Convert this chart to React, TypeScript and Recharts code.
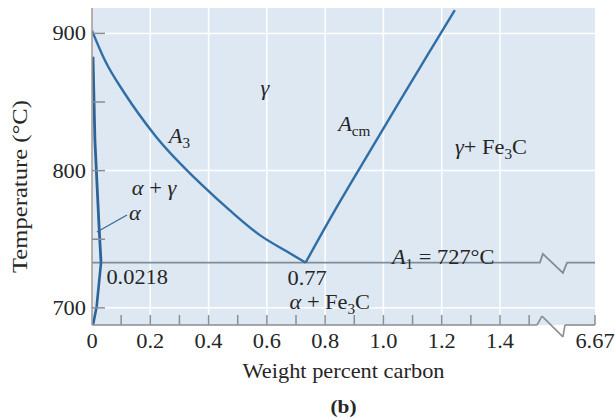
import { LineChart, Line, XAxis, YAxis, CartesianGrid, ReferenceLine, ReferenceDot } from "recharts";

// x in display units: 0..1.5 wt% is linear, the axis is broken after 1.5 and ends at 6.67
const X_END = 1.726;
const Y_MIN = 687.5;
const Y_MAX = 918.5;

const X_TICKS = [0, 0.1, 0.2, 0.3, 0.4, 0.5, 0.6, 0.7, 0.8, 0.9, 1.0, 1.1, 1.2, 1.3, 1.4, 1.5, X_END];
const X_LABELS = [0, 0.2, 0.4, 0.6, 0.8, 1.0, 1.2, 1.4];
const X_END_LABEL = "6.67";
const X_GRID = [0.2, 0.4, 0.6, 0.8, 1.0, 1.2, 1.4];
const Y_TICKS = [700, 750, 800, 850, 900];
const Y_LABELS = [700, 800, 900];
const Y_GRID = [700, 800, 900];

// phase boundaries (wt% C, °C)
const A3 = [
  { c: 0, t: 902 },
  { c: 0.045, t: 880 },
  { c: 0.113, t: 856 },
  { c: 0.215, t: 826 },
  { c: 0.38, t: 789 },
  { c: 0.473, t: 771 },
  { c: 0.576, t: 753 },
  { c: 0.669, t: 741 },
  { c: 0.733, t: 733 },
];
const ACM = [
  { c: 0.733, t: 733 },
  { c: 0.828, t: 769 },
  { c: 0.942, t: 810 },
  { c: 1.057, t: 851 },
  { c: 1.148, t: 883 },
  { c: 1.245, t: 917 },
];
const ALPHA_GAMMA = [
  { c: 0.0034, t: 883 },
  { c: 0.01, t: 822 },
  { c: 0.024, t: 760 },
  { c: 0.031, t: 733 },
];
const SOLVUS = [
  { c: 0.031, t: 733 },
  { c: 0.016, t: 701 },
  { c: 0.004, t: 688 },
];
const A1 = [
  { c: 0, t: 733 },
  { c: 1.537, t: 733 },
  { c: 1.547, t: 739.3 },
  { c: 1.616, t: 725.5 },
  { c: 1.63, t: 733 },
  { c: X_END, t: 733 },
];
const AXIS_BREAK = [
  { c: 0, t: Y_MIN },
  { c: 1.527, t: Y_MIN },
  { c: 1.544, t: 694 },
  { c: 1.616, t: 678.8 },
  { c: 1.623, t: Y_MIN },
  { c: X_END, t: Y_MIN },
];

const BG = "#dde8f3";
const CURVE = "#2f6ea6";
const AXIS = "#8a8e92";
const INK = "#262626";
const SERIF = "Liberation Serif, Times New Roman, serif";
const SX = 1.12;

function Txt({ x, y, size = 20, anchor = "middle", rotate, weight, children }: any) {
  const tf = `translate(${x} ${y})${rotate ? ` rotate(${rotate})` : ""} scale(${SX} 1)`;
  return (
    <g transform={tf}>
      <text x={0} y={0} fontFamily={SERIF} fontSize={size} fontWeight={weight} textAnchor={anchor} fill={INK}>
        {children}
      </text>
    </g>
  );
}

const It = ({ children }: any) => <tspan fontStyle="italic">{children}</tspan>;
const Sub = ({ children, size = 20 }: any) => (
  <tspan fontSize={size * 0.68} dy={5}>
    {children}
  </tspan>
);
const Up = ({ children }: any) => <tspan dy={-5}>{children}</tspan>;

function XTick({ x, y, payload }: any) {
  const v = payload.value;
  let label: string | null = null;
  if (v === X_END) label = X_END_LABEL;
  else if (X_LABELS.includes(v)) label = v === 0 ? "0" : v.toFixed(1);
  return (
    <g>
      {v !== 0 && <line x1={x} x2={x} y1={y} y2={y - 10} stroke={AXIS} strokeWidth={1.5} />}
      {label && <Txt x={x} y={y + 23}>{label}</Txt>}
    </g>
  );
}

function YTick({ x, y, payload }: any) {
  const v = payload.value;
  return (
    <g>
      <line x1={x} x2={x + 13} y1={y} y2={y} stroke={AXIS} strokeWidth={1.5} />
      {Y_LABELS.includes(v) && (
        <Txt x={x - 6} y={y + 7} anchor="end">
          {v}
        </Txt>
      )}
    </g>
  );
}

const note = (node: any, size = 20) => (p: any) => (
  <g transform={`translate(0 ${size * 0.35})`}>{node(p.cx, p.cy)}</g>
);

export default function App() {
  return (
    <div style={{ position: "absolute", left: 0, top: 0, background: "#fff" }}>
      <LineChart width={615} height={419} margin={{ top: 8, right: 20, left: 0, bottom: 0 }}>
        <CartesianGrid
          fill={BG}
          fillOpacity={1}
          stroke="#ffffff"
          strokeWidth={1.5}
          verticalValues={X_GRID}
          horizontalValues={Y_GRID}
        />
        <XAxis
          type="number"
          dataKey="c"
          domain={[0, X_END]}
          allowDataOverflow
          ticks={X_TICKS}
          interval={0}
          axisLine={false}
          tickLine={false}
          tickSize={0}
          tickMargin={0}
          height={94}
          tick={(p: any) => <XTick {...p} />}
          label={{
            content: ({ viewBox }: any) => (
              <g>
                <Txt x={viewBox.x + viewBox.width / 2} y={viewBox.y + 53}>
                  Weight percent carbon
                </Txt>
                <Txt x={viewBox.x + viewBox.width / 2} y={viewBox.y + 88} weight="bold" size={19}>
                  (b)
                </Txt>
              </g>
            ),
          }}
        />
        <YAxis
          type="number"
          domain={[Y_MIN, Y_MAX]}
          allowDataOverflow
          ticks={Y_TICKS}
          interval={0}
          width={92}
          axisLine={{ stroke: "#a09a92", strokeWidth: 1.5 }}
          tickLine={false}
          tickSize={0}
          tickMargin={0}
          tick={(p: any) => <YTick {...p} />}
          label={{
            content: ({ viewBox }: any) => (
              <Txt x={27} y={viewBox.y + viewBox.height / 2 + 20} rotate={-90} size={22}>
                Temperature (°C)
              </Txt>
            ),
          }}
        />

        {AXIS_BREAK.slice(1).map((p, i) => (
          <ReferenceLine
            key={`ax${i}`}
            segment={[
              { x: AXIS_BREAK[i].c, y: AXIS_BREAK[i].t },
              { x: p.c, y: p.t },
            ]}
            ifOverflow="visible"
            stroke={AXIS}
            strokeWidth={1.6}
          />
        ))}

        <Line data={A1} dataKey="t" type="linear" stroke="#7f8d9a" strokeWidth={1.8} dot={false} activeDot={false} isAnimationActive={false} />
        <Line data={A3} dataKey="t" type="monotone" stroke={CURVE} strokeWidth={2.4} dot={false} activeDot={false} isAnimationActive={false} />
        <Line data={ACM} dataKey="t" type="monotone" stroke={CURVE} strokeWidth={2.4} dot={false} activeDot={false} isAnimationActive={false} />
        <Line data={ALPHA_GAMMA} dataKey="t" type="linear" stroke="#2c6398" strokeWidth={2.8} dot={false} activeDot={false} isAnimationActive={false} />
        <Line data={SOLVUS} dataKey="t" type="linear" stroke="#2c6398" strokeWidth={2.6} dot={false} activeDot={false} isAnimationActive={false} />

        <ReferenceLine
          segment={[
            { x: 0.017, y: 755.3 },
            { x: 0.12, y: 767.7 },
          ]}
          stroke="#3a6a96"
          strokeWidth={1.3}
        />

        <ReferenceDot x={0.593} y={860} r={0} shape={note((x, y) => <Txt x={x} y={y}><It>γ</It></Txt>)} />
        <ReferenceDot x={0.3} y={825} r={0} shape={note((x, y) => <Txt x={x} y={y}><It>A</It><Sub>3</Sub></Txt>)} />
        <ReferenceDot x={0.9} y={834} r={0} shape={note((x, y) => <Txt x={x} y={y}><It>A</It><Sub>cm</Sub></Txt>)} />
        <ReferenceDot
          x={1.369}
          y={817}
          r={0}
          shape={note((x, y) => (
            <Txt x={x} y={y}>
              <It>γ</It>+ Fe<Sub>3</Sub><Up>C</Up>
            </Txt>
          ))}
        />
        <ReferenceDot x={0.213} y={787.5} r={0} shape={note((x, y) => <Txt x={x} y={y}><It>α</It> + <It>γ</It></Txt>)} />
        <ReferenceDot x={0.147} y={769} r={0} shape={note((x, y) => <Txt x={x} y={y}><It>α</It></Txt>)} />
        <ReferenceDot x={0.155} y={722.5} r={0} shape={note((x, y) => <Txt x={x} y={y}>0.0218</Txt>)} />
        <ReferenceDot x={0.738} y={722} r={0} shape={note((x, y) => <Txt x={x} y={y}>0.77</Txt>)} />
        <ReferenceDot
          x={0.816}
          y={704}
          r={0}
          shape={note((x, y) => (
            <Txt x={x} y={y}>
              <It>α</It> + Fe<Sub>3</Sub><Up>C</Up>
            </Txt>
          ))}
        />
        <ReferenceDot
          x={1.205}
          y={737}
          r={0}
          shape={note((x, y) => (
            <Txt x={x} y={y}>
              <It>A</It><Sub>1</Sub><Up> = 727°C</Up>
            </Txt>
          ))}
        />
      </LineChart>
    </div>
  );
}
